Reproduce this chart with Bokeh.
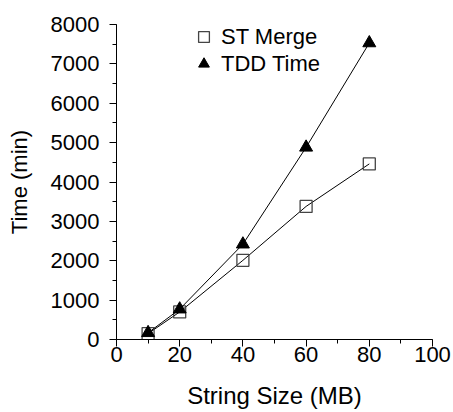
from bokeh.plotting import figure
from bokeh.models import Range1d, SingleIntervalTicker, Legend, LegendItem
from bokeh.embed import file_html
from bokeh.resources import INLINE

# data
string_size = [10, 20, 40, 60, 80]
st_merge = [150, 700, 2010, 3380, 4460]
tdd_time = [170, 770, 2420, 4880, 7530]

x_ticks_interval = 20
y_ticks_interval = 1000

FONT = "Liberation Sans"

p = figure(width=453, height=412, output_backend="svg", toolbar_location=None,
           x_range=Range1d(0, 100), y_range=Range1d(0, 8000),
           min_border_left=116, min_border_right=21, min_border_top=24, min_border_bottom=73)
p.outline_line_color = None
p.xgrid.visible = False
p.ygrid.visible = False
p.background_fill_color = "white"
p.border_fill_color = "white"

p.xaxis.ticker = SingleIntervalTicker(interval=x_ticks_interval, num_minor_ticks=2)
p.yaxis.ticker = SingleIntervalTicker(interval=y_ticks_interval, num_minor_ticks=2)

for ax in (p.xaxis[0], p.yaxis[0]):
    ax.major_tick_in = 0
    ax.major_tick_out = 7
    ax.minor_tick_in = 0
    ax.minor_tick_out = 4
    ax.axis_line_color = "black"
    ax.major_tick_line_color = "black"
    ax.minor_tick_line_color = "black"
    ax.major_label_text_font = FONT
    ax.major_label_text_font_size = "22px"
    ax.major_label_text_color = "black"
    ax.axis_label_text_font = FONT
    ax.axis_label_text_font_style = "normal"
    ax.axis_label_text_color = "black"

p.xaxis.axis_label = "String Size (MB)"
p.yaxis.axis_label = "Time (min)"
p.xaxis.axis_label_text_font_size = "24px"
p.yaxis.axis_label_text_font_size = "22px"
p.xaxis.major_label_standoff = 0
p.xaxis.axis_label_standoff = 17
p.yaxis.major_label_standoff = 10
p.yaxis.axis_label_standoff = 16

l1 = p.line(string_size, st_merge, line_color="black", line_width=1)
s1 = p.scatter(string_size, st_merge, marker="square", size=12, fill_color=None,
               line_color="#444444", line_width=1.3)
l2 = p.line(string_size, tdd_time, line_color="black", line_width=1)
s2 = p.scatter(string_size, tdd_time, marker="triangle", size=13, fill_color="black",
               line_color="black")

legend = Legend(items=[LegendItem(label="ST Merge", renderers=[s1]),
                       LegendItem(label="TDD Time", renderers=[s2])],
                location=(74, 262), padding=0, spacing=-7, glyph_width=27, glyph_height=27,
                label_standoff=4, label_text_font=FONT, label_text_font_size="22px",
                label_text_color="black", border_line_color=None, background_fill_alpha=0)
p.add_layout(legend)

open("out.html", "w").write(file_html(p, INLINE))
